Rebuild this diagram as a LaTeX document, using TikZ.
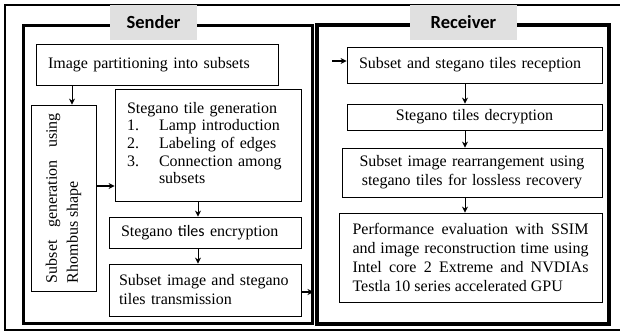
\documentclass[tikz,border=0pt]{standalone}
\usepackage{fontspec}
\setmainfont{Liberation Serif}
\newfontfamily\calibri{Carlito}
\usetikzlibrary{arrows.meta}
\hyphenpenalty=10000
\exhyphenpenalty=10000

\begin{document}
\begin{tikzpicture}[x=1pt, y=-1pt, >={Stealth[length=6pt, width=6pt]},
    box/.style={draw, line width=0.8pt, inner xsep=12pt, inner ysep=2pt, align=left, font=\fontsize{16}{19}\selectfont},
    frame/.style={draw, line width=3pt, inner sep=0pt},
    tag/.style={fill=black!12, inner sep=0pt, minimum height=35pt, font=\calibri\bfseries\fontsize{18.5}{20}\selectfont},
    flow/.style={->, line width=0.9pt},
    link/.style={->, line width=1.8pt}]

    \useasboundingbox (0,0) rectangle (620,335);

    % Outer border, open to the right
    \draw[line width=1.5pt] (620,5) -- (5,5) -- (5,330) -- (620,330);

    % Frames and their titles
    \node (sframe) [frame, minimum width=289pt, minimum height=298pt] at (167.5,174) {};
    \node (rframe) [frame, line width=3.5pt, minimum width=292pt, minimum height=299pt] at (463,174.5) {};
    \node (sendtag) [tag, minimum width=87pt] at (153.5,22.5) {Sender};
    \node (recvtag) [tag, minimum width=107pt] at (463.5,22.5) {Receiver};

    % Sender nodes
    \node (part) [box, text width=218pt, minimum height=41pt] at (157,64.5) {Image partitioning into subsets};
    \node (subset) [box, inner sep=0pt, minimum width=65pt, minimum height=186pt] at (63.5,198) {};
    \node (subsettext) [rotate=90, text width=170pt, align=justify, font=\fontsize{16}{21}\selectfont] at (subset.center) {Subset generation using Rhombus shape};
    \node (tilegen) [box, text width=162pt, minimum height=112pt, font=\fontsize{16}{17.7}\selectfont] at (208,145) {%
        \begin{tabular}{@{}l@{\hspace{20pt}}l@{}}
        \multicolumn{2}{@{}l}{Stegano tile generation}\\
        1. & Lamp introduction\\
        2. & Labeling of edges\\
        3. & Connection among\\
           & subsets
        \end{tabular}};
    \node (encrypt) [box, text width=168pt, minimum height=31pt] at (205,232.5) {Stegano {\calibri tiles} encryption};
    \node (transmit) [box, inner xsep=10pt, text width=172pt, minimum height=52pt] at (205,290) {Subset image and stegano\\tiles transmission};

    % Receiver nodes
    \node (recept) [box, text width=231pt, minimum height=36pt] at (474.5,65) {Subset and stegano tiles reception};
    \node (decrypt) [box, text width=231pt, minimum height=26pt, align=center] at (474.5,117) {Stegano tiles decryption};
    \node (rearr) [box, text width=236pt, minimum height=49pt, align=center] at (472,172.5) {Subset image rearrangement using\\stegano tiles for lossless recovery};
    \node (perf) [box, inner xsep=13.5pt, text width=236pt, minimum height=89pt, align=justify] at (470.5,257.5)
        {Performance evaluation with SSIM\linebreak and image reconstruction time using\linebreak Intel core 2 Extreme and NVDIAs\linebreak Testla 10 series accelerated GPU};

    % Arrow ends
    \coordinate (down1) at ([xshift=8.5pt]subset.north);
    \coordinate (side1) at ([yshift=-41pt]tilegen.west);
    \coordinate (exit) at ([yshift=-2pt]transmit.east);
    \coordinate (entry) at (332,61);
    \coordinate (rcol) at (465,0);

    % Sender arrows
    \draw[flow] (part.south -| down1) -- (down1);
    \draw[link] (subset.east |- side1) -- (side1);
    \draw[flow] ([xshift=-10pt]tilegen.south) -- ([xshift=-7pt]encrypt.north);
    \draw[flow] ([xshift=-7pt]encrypt.south) -- ([xshift=-7pt]transmit.north);
    \draw[link] (exit) -- (exit -| sframe.east);

    % Receiver arrows
    \draw[link] (entry) -- (entry -| recept.west);
    \draw[flow] (recept.south -| rcol) -- (decrypt.north -| rcol);
    \draw[flow] (decrypt.south -| rcol) -- (rearr.north -| rcol);
    \draw[flow] (rearr.south -| rcol) -- (perf.north -| rcol);

\end{tikzpicture}
\end{document}
